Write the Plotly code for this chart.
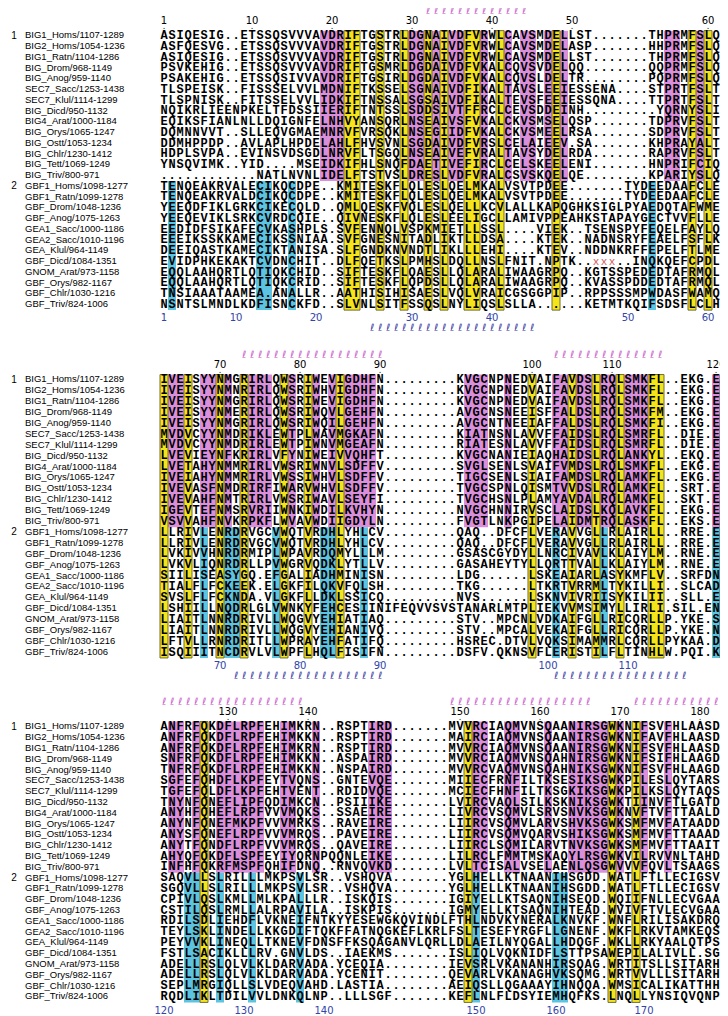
import plotly.graph_objects as go

# ---------------- data ----------------
NAMES = ["BIG1_Homs/1107-1289", "BIG2_Homs/1054-1236", "BIG1_Ratn/1104-1286", "BIG_Drom/968-1149",
         "BIG_Anog/959-1140", "SEC7_Sacc/1253-1438", "SEC7_Klul/1114-1299", "BIG_Dicd/950-1132",
         "BIG4_Arat/1000-1184", "BIG_Orys/1065-1247", "BIG_Ostt/1053-1234", "BIG_Chlr/1230-1412",
         "BIG_Tett/1069-1249", "BIG_Triv/800-971",
         "GBF1_Homs/1098-1277", "GBF1_Ratn/1099-1278", "GBF_Drom/1048-1236", "GBF_Anog/1075-1263",
         "GEA1_Sacc/1000-1186", "GEA2_Sacc/1010-1196", "GEA_Klul/964-1149", "GBF_Dicd/1084-1351",
         "GNOM_Arat/973-1158", "GBF_Orys/982-1167", "GBF_Chlr/1030-1216", "GBF_Triv/824-1006"]
GROUP_MARK = {0: "1", 14: "2"}

BLOCK1 = [
    "ASIQESIG..ETSSQSVVVAVDRIFTGSTRLDGNAIVDFVRWLCAVSMDELLST.......THPRMFSLQK",
    "ASFQESVG..ETSSQSVVVAVDRIFTGSTRLDGNAIVDFVRWLCAVSMDELASP.......HHPRMFSLQK",
    "ASIQESIG..ETSSQSVVVAVDRIFTGSTRLDGNAIVDFVRWLCAVSMDELLST.......THPRMFSLQK",
    "PSVKEHIG..ETSSQSVVVAVDRIFTGSMRLDGDAIVDFVKALCQVSVDELQQ........QQPRMFSLQK",
    "PSAKEHIG..ETSSQSIVVAVDRIFTGSIRLDGDAIVDFVKALCQVSLDELTR........PQPRMFSLQK",
    "TLSPEISK..FISSSELVVLMDNIFTKSSELSGNAIVDFIKALTAVSLEEIESSENA....STPRTFSLTR",
    "TLSPNISK..FITSSELVVLIDKIFTNSSALSGSAIVDFIKALTEVSFEEIESSQNA....TTPRTFSLTK",
    "NQIKRLIEENPKELTFDSSIIERIFTNTSSLSDDSIVTFFRCLCEVSDDEINH.........YQRNYSLIK",
    "EQIKSFIANLNLLDQIGNFELNHVYANSQRLNSEAIVSFVKALCKVSMSELQSP.......TDPRVFSLTK",
    "DQMNNVVT..SLLEQVGMAEMNRVFVRSQKLNSEGIIDFVKALCKVSMEELRSA.......SDPRVFSLTK",
    "DDMHPPDP..AVLAPLHPDELAHLFHVSVNLSGDAIVDFVRSLCELAIEEV.SA.......KHPRAYALTK",
    "HDPLSVPA..EVINSVDSGDLNRVFLTSGQLNSEAIVEFVRALTAVSYDELRDA.......RAPRVFSLTK",
    "YNSQVIMK..YID....MSEIDKIFHLSNQFDAETIVEFIRCLCELSKEELENI.......HNPRIFCIQR",
    "............NATLNVNLIDELFTSTVSLDRESLVDFVRALCSVSKQELQE........KPARIYSLQK",
    "TENQEAKRVALECIKQCDPE..KMITESKFLQLESLQELMKALVSVTPDEE.......TYDEEDAAFCLEM",
    "TENQEAKRVALDCIKQCDPE..KMITESKFLQLESLQELMKALVSVTPDEE.......TYDEEDAAFCLEM",
    "YEEQDFIKLGRKCIKECQLD..QMLQESKFVQLESLQELLKCVLALLKAPQGHKSIGLPYAEDQTAFWMEF",
    "YEEQEVIKLSRKCVRDCQIE..QIVNESKFLQLESLEELIGCLLAMIVPPEAHKSTAPAYGECTVVFLLEF",
    "EEDIDFSIKAFECVKASHPLS.SVFENNQLVSPKMIETLLSSL....VIEK..TSENSPYFEQELFAYLQI",
    "EEEIKSSKKAMECIKSSNIAA.SVFGNESNITADLIKTLLDSA....KTEK..NADNSRYFEAELFSFLKI",
    "DEEIQASTKAMECIKTANISA.SLFGNDKNVNDTLIKLLLEHI....KTEV..NDDNKRFFEPELFTLMEL",
    "EVIDPHKEKAKTCVDNCHIT..DLFQETKSLPMHSLDQLLNSLFNIT.NPTK..xxx..INQKQEFCPDLI",
    "EQQLAAHQRTLQTIQKCHID..SIFTESKFLQAESLLQLARALIWAAGRPQ..KGTSSPEDEDTAFRMQLL",
    "EQQLAAHQRTLQTIQKCRID..SIFTESKFLQPDSLLQLARALIWAAGRPQ..KVASSPDDEDTAFRMQLL",
    "TNSIAAATAAMEA.ANALLR..AATHISIHISAESLVQLVRAICGSGGPIP..RPPSSSMPWDASFWAMQL",
    "NSNTSLMNDLKDFISNCKFD..SLVNLSITFSSQSLNYLIQSLSLLA......KETMTKQIFSDSFLCLHL",
]

BLOCK2 = [
    "IVEISYYNMGRIRLQWSRIWEVIGDHFN.........KVGCNPNEDVAIFAVDSLRQLSMKFL..EKG.EL",
    "IVEISYYNMNRIRLQWSRIWHVIGDHFN.........KVGCNPNEDVAIFAVDSLRQLSMKFL..EKG.EL",
    "IVEISYYNMGRIRLQWSRIWEVIGDHFN.........KVGCNPNEDVAIFAVDSLRQLSMKFL..EKG.EL",
    "IVEISYYNMERIRLQWSRIWQVLGEHFN.........AVGCNSNEEISFFALDSLRQLSMKFM..EKG.EF",
    "IVEISYYNMGRIRLQWSRIWQILGEHFN.........AVGCNTNEEIAFFALDSLRQLSMKFI..EKG.EF",
    "MVDVCYYNMDRIKLEWTPLWAVMGKAFN.........KIATNSNLAVVFFAIDSLRQLSMRFL..DIE.EL",
    "MVDVCYYNMDRIRLEWTPIWNVMGEAFN.........RIATESNLAVVFFAIDSLRQLSMRFL..DIE.EL",
    "LVEVIEYNFKRIRLVFYNIWEIVVQHFT.........KVGCNANIEIAQHAIDSLRQLANKYL..EKQ.EL",
    "LVETAHYNMMRIRLVWSRIWNVLSDFFV.........SVGLSENLSVAIFVMDSLRQLSMKFL..EKG.EL",
    "IVEIAHYNMMRIRLVWSSIWHVLSDFFV.........TIGCSENLSIAIFAMDSLRQLAMKFL..EKG.EL",
    "IVEVASFNMDRIRFIWARVWHVLSDFFV.........TVGCSPNLQISMTVVDSLRQLAMKFL..SRT.EL",
    "IVEVAHFNMTRIRLVWSRIWAVLSEYFI.........TVGCHSNLPLAMYAVDALRQLAMKFL..SKT.EI",
    "IGEVTEFNMSRVRIIWNKIWDILKVHYN.........NVGCHNNIRVSCLAIDSLKQLAVKFL..EKG.EL",
    "VSVVAHFNVKRPKFLWVAVWDIIGDYLN.........FVGTLNKPGIPELAIDMTRQLASKFL..EKS.EL",
    "LLRIVLENRDRVGCVWQTVRDHLYHLCV.........QAQ..DFCFLVERAVVGLLRLAIRLL..RRE.EI",
    "LLRIVLENRDRVGCVWQTVRDHLYHLCV.........QAQ..DFCFLVERAVVGLLRLAIRLL..RRE.EI",
    "LVKIVVHNRDRMIPLWPAVRDQMYLLLM.........GSASCGYDYLLNRCIVAVLKLAIYLM..RNE.EL",
    "LVKVLIQNRDRLLPVWGRVQDKLYTLLV.........GASAHEYTYLLQRTTVALLKLAIYLM..RNE.EL",
    "SIILISEASYGQ.EFGALIADHMINISN.........LDG......LSKEAIARLASYKMFLV..SRFDNP",
    "TIALFLFCKEEK.ELGKFILQKVFQLSH.........TKG......LTKRTVRRMLTYKILLI..SLCADQ",
    "SVSLFLFCKNDA.VLGKFLLDKLSSICQ.........NVS......LSKNVIVRIISYKILII..SLL.EN",
    "LSHIILLNQDRLGLVWNKYFEHCESIINIFEQVVSVSTANARLMTPLIEKVVMSIMYLLIRLI.SIL.EN",
    "LIAITLNNRDRIVLLWQGVYEHIATIAQ.........STV..MPCNLVDKAIFGLLRICQRLLP.YKE.SL",
    "LIAITLNNRDRIVLLWQGVYEHIANIVQ.........STV..MPCALVEKAIFGLLRICQRLLP.YKE.NL",
    "LFTVLLRNRDRITLLWPRAYEHFATIFQ.........HSREC.DTVLVQKSIMAMMRLCQRLLPYKAA.DI",
    "ISQIIITNCDRVLVLWPFLHQLFISIFN.........DSFV.QKNSVFLERISTILFLTINHLW.PQI.KI",
]

BLOCK3 = [
    "ANFRFQKDFLRPFEHIMKRN..RSPTIRD.......MVVRCIAQMVNSQAANIRSGWKNIFSVFHLAASDD",
    "ANFRFQKDFLRPFEHIMKKN..RSPTIRD.......MAIRCIAQMVNSQAANIRSGWKNIFAVFHLAASDH",
    "ANFRFQKDFLRPFEHIMKRN..RSPTIRD.......MVVRCIAQMVNSQAANIRSGWKNIFSVFHLAASDD",
    "SNFRFQKDFLRPFEHIMKKN..ASPAIRD.......MVVRCIAQMVNSQAHNIRSGWKNIFSIFHLAAGDN",
    "TNFRFQKDFLRPFEHIMKKN..NSPAIRD.......MVVRCVAQMVNSQAHNIKSGWKNIFSVFHLAAGDH",
    "SGFEFQHDFLKPFEYTVQNS..GNTEVQE.......MIIECFRNFILTKSESIKSGWKPILESLQYTARSS",
    "TGFEFQLDFLKPFEHTVENT..RDIDVQE.......MCIECFHNFILTKSGKIKSGWKPILKSLQYTAQSS",
    "TNYNFQNEFLIPFQDIMKCN..PSIIIKE.......LVIRCVAQLSILKSKNIKSGWKTIINVFTLGATDE",
    "ANYHFQHEFLRPFVVVMQKS..SSAEIRE.......LIVRCVSQMVLSRVSNVKSGWKNVFTVFTTAALDE",
    "ANYNFQNEFMKPFVVVMRKS..RAVEIRE.......LIIRCVSQMVLARVSHVKSGWKSMFMVFATAADDE",
    "ANYSFQNEFLRPFVVVMRQS..PAVEIRE.......LIIRCVSQMVQARVSHIKSGWKSMFMVFTTAAADE",
    "ANYTFQNDFLRPFVVVMRQS..QAVEIRE.......LIIRCLSQMILARVTNVKSGWKSMFMVFTTAAITE",
    "AHYQFQKDFLSPFEYIYQRNPQQNLEIKE.......LILRCLFMMTMSKAQYLRSGWKVILRVVNLTAHDE",
    "INFHFQKRFMSPFQHIFDNQ..RNVQVKD.......LVLTCISALVSELAENLQSGWVVVFQVLTSAAGSE",
    "SAQVLLSLRILLLMKPSVLSR..VSHQVA.......YGLHELLKTNAANIHSGDD.WATLFTLLECIGSV",
    "SGQVLLSLRILLLMKPSVLSR..VSHQVA.......YGLHELLKTNAANIHSGDD.WATLFTLLECIGSV",
    "CPIVLQSLKMLLMLKPALLLR..ISKQIS.......IGIYELLKTSAQNIHSEQD.WQIIFNLLECVGAA",
    "CSTILQSLRMLLALRPAVILA..ISKPIS.......IGMYELLKTSAQNIHTEAD.WVIVFTVLECVGAA",
    "RDILSDLIEHDFLVKNEIFNTKYYESEWGKQVINDLFTHLNDVKYNERALKNVKF.WNFLRILISAKDRQ",
    "TEYLSKLINDELLKKGDIFTQKFFATNQGKEFLKRLFSLTESEFYRGFLLGNENF.WKFLRKVTAMKEQS",
    "PEYVVKLINEQLLTKNEVFDNSFFKSQAGANVLQRLLDLAEILNYQGALLHDQGF.WKLLRKYAALQTPS",
    "FSTLSACIKLLLRV.GNVLDS..IAEKMS.......ISLIQLVQKNIDFLSTTPSAWEPILALIVLL.SG",
    "ADELLRSLQLVLKLDARVADA.YCEQIA........IEVSRLVKANANHIRSQAG.WRTITSLLSITARH",
    "ADELLRSLQLVLKLDARVADA.YCENIT........QEVARLVKANAGHVKSQMG.WRTVVLLLSITARH",
    "SEPLMRGIQLLSLVDEQVAHD.LASTIA........AEIQSLLQGAAAYIHNQQA.WMSICALIKATTHH",
    "RQDLIKLTDILVVLDNKQLNP..LLLSGF.......KEFLNLFLDSYIEMHQFKS.LNQLLYNSIQVQNP",
]

# column classes (1-based columns): purple = conserved in BIG rows, cyan = conserved in GBF rows,
# yellow = conserved in both families
PURPLE = [
    [21, 22, 23, 32, 33, 35, 37, 38, 41, 44, 46, 47, 49, 51, 64, 65, 68, 71],
    [2, 3, 6, 7, 9, 12, 13, 14, 17, 20, 22, 24, 25, 26, 27, 39, 40, 41, 44, 50, 51, 53, 54, 56, 57, 59, 60, 61, 70],
    [2, 3, 5, 8, 9, 10, 11, 12, 13, 16, 17, 20, 27, 28, 29, 40, 41, 44, 45, 49, 52, 53, 54, 55, 56, 58, 61, 64],
]
YELLOW = [
    [24, 25, 28, 31, 34, 36, 39, 40, 43, 50, 67, 69],
    [1, 4, 8, 11, 16, 19, 23, 47, 52, 55, 58, 62, 63, 71],
    [6, 39, 57, 60],
]
CYAN = [
    [2, 13, 14, 17, 62],
    [6, 9, 10, 15, 21, 22, 26, 50, 56, 70],
    [4, 5, 8, 12, 18, 40, 50, 51],
]
HELIX_TOP = [[(34, 46)], [(11, 28), (50, 63)], [(1, 18), (37, 54), (60, 71)]]
HELIX_BOT = [[(27, 47)], [(10, 28), (50, 66)], [(3, 13), (37, 53), (60, 71)]]

# ---------------- layout constants ----------------
W, H = 728, 1016
COL_PX0, COL_W = 148, 8.0          # pixel centre of column c = COL_PX0 + COL_W*c
ROW1_PX = [28, 372, 719]           # pixel centre of first row of each block
PITCH = [10.75, 10.9, 10.8]
NB = 14                            # rows in first family
PURPLE_C, YELLOW_C, CYAN_C = "#d98fdc", "#f4e41c", "#5cc3e0"
YELLOW_EDGE = "#6e6e38"
PINK_HELIX, BLUE_HELIX, BLUE_NUM = "#cc66cc", "#4a4aa8", "#3344aa"
SEQ_FONT = dict(family="Liberation Mono", size=12, color="black", weight="bold")
TXT = dict(mode="text", hoverinfo="skip", showlegend=False, cliponaxis=False)

fig = go.Figure()
yaxes = ["y", "y2", "y3"]


def runs(cols):
    cols = sorted(cols)
    out = []
    for c in cols:
        if out and c == out[-1][1] + 1:
            out[-1][1] = c
        else:
            out.append([c, c])
    return out


shapes = []
for b, blk in enumerate([BLOCK1, BLOCK2, BLOCK3]):
    ya = yaxes[b]
    nrows = len(blk)
    for cols, color, r0, r1 in [(PURPLE[b], PURPLE_C, 1, NB), (CYAN[b], CYAN_C, NB + 1, nrows)]:
        for c0, c1 in runs(cols):
            shapes.append(dict(type="rect", xref="x", yref=ya, x0=c0 - 0.5, x1=c1 + 0.5,
                               y0=r0 - 0.5, y1=r1 + 0.5, fillcolor=color, line_width=0, layer="below"))
    for c0, c1 in runs(YELLOW[b]):
        shapes.append(dict(type="rect", xref="x", yref=ya, x0=c0 - 0.5, x1=c1 + 0.5,
                           y0=0.5, y1=nrows + 0.5, fillcolor=YELLOW_C,
                           line=dict(color=YELLOW_EDGE, width=1), layer="below"))

    # sequence letters
    xs, ys, ts, rx, ry = [], [], [], [], []
    for r, seq in enumerate(blk, start=1):
        for c, ch in enumerate(seq, start=1):
            if ch == "x":
                rx.append(c); ry.append(r)
            else:
                xs.append(c); ys.append(r); ts.append(ch)
    fig.add_trace(go.Scatter(x=xs, y=ys, text=ts, textfont=SEQ_FONT, yaxis=ya, **TXT))
    if rx:
        fig.add_trace(go.Scatter(x=rx, y=ry, text=["x"] * len(rx),
                                 textfont=dict(family="Liberation Mono", size=11, color="#d45a5a"),
                                 yaxis=ya, **TXT))

    # row labels
    lab_x = [(17 - COL_PX0) / COL_W] * nrows
    fig.add_trace(go.Scatter(x=lab_x, y=list(range(1, nrows + 1)), text=NAMES,
                             textposition="middle right",
                             textfont=dict(family="Liberation Sans", size=9.5, color="black"),
                             yaxis=ya, **TXT))
    gm_r = [k + 1 for k in GROUP_MARK]
    fig.add_trace(go.Scatter(x=[(6 - COL_PX0) / COL_W] * len(gm_r), y=gm_r, text=list(GROUP_MARK.values()),
                             textfont=dict(family="Liberation Sans", size=10, color="black"),
                             yaxis=ya, **TXT))

    # helices
    for spans, yoff, col in [(HELIX_TOP[b], -25, PINK_HELIX), (HELIX_BOT[b], 24, BLUE_HELIX)]:
        hx = [c for s, e in spans for c in range(s, e + 1)]
        yrow = (1 if yoff < 0 else nrows) + yoff / PITCH[b]
        fig.add_trace(go.Scatter(x=hx, y=[yrow] * len(hx), text=["ℓ"] * len(hx),
                                 textfont=dict(family="DejaVu Sans", size=10, color=col),
                                 yaxis=ya, **TXT))

# numbering (top: first sequence; bottom: first sequence of second family)
for ref_row, yoff, doff, color in [(0, -15, -9, "black"), (NB, 14, 8, BLUE_NUM)]:
    count = 0
    for b, blk in enumerate([BLOCK1, BLOCK2, BLOCK3]):
        seq = blk[ref_row]
        nx, nt = [], []
        for c, ch in enumerate(seq, start=1):
            if ch not in ".x":
                count += 1
                if count == 1 or count % 10 == 0:
                    nx.append(c); nt.append(str(count))
        base = 1 if yoff < 0 else len(blk)
        fig.add_trace(go.Scatter(x=nx, y=[base + yoff / PITCH[b]] * len(nx), text=nt,
                                 textfont=dict(family="DejaVu Sans", size=10, color=color),
                                 yaxis=yaxes[b], **TXT))
        fig.add_trace(go.Scatter(x=nx, y=[base + doff / PITCH[b]] * len(nx), text=["."] * len(nx),
                                 textfont=dict(family="DejaVu Sans", size=8, color=color),
                                 yaxis=yaxes[b], **TXT))

layout_axes = {}
layout_axes["xaxis"] = dict(range=[(0 - COL_PX0) / COL_W, (W - COL_PX0) / COL_W], visible=False,
                            fixedrange=True)
for b in range(3):
    top = 1 - ROW1_PX[b] / PITCH[b]
    bot = 1 + (H - ROW1_PX[b]) / PITCH[b]
    name = "yaxis" if b == 0 else f"yaxis{b + 1}"
    ax = dict(range=[bot, top], visible=False, fixedrange=True, domain=[0, 1])
    if b > 0:
        ax["overlaying"] = "y"
    layout_axes[name] = ax

fig.update_layout(width=W, height=H, margin=dict(l=0, r=0, t=0, b=0), paper_bgcolor="white",
                  plot_bgcolor="white", shapes=shapes, **layout_axes)
fig.write_html("out.html")
